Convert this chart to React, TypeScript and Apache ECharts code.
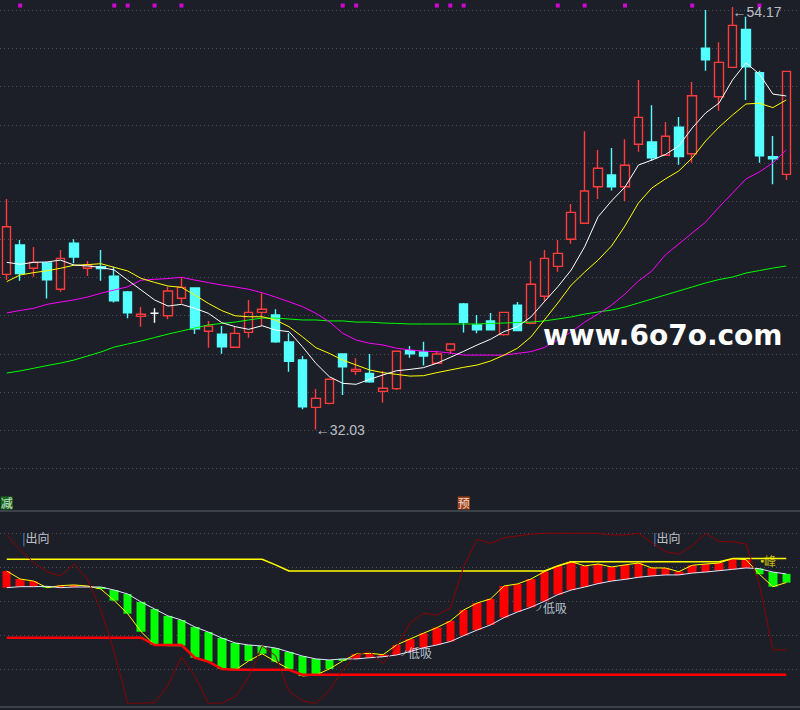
import React, { useEffect, useRef } from "react";
import * as echarts from "echarts";

// ---------- data ----------
const categories = [
  "1","2","3","4","5","6","7","8","9","10","11","12","13","14","15","16","17","18","19","20",
  "21","22","23","24","25","26","27","28","29","30","31","32","33","34","35","36","37","38","39","40",
  "41","42","43","44","45","46","47","48","49","50","51","52","53","54","55","56","57","58","59",
];

const opens = [40.16,41.70,40.48,40.76,39.38,41.80,40.48,40.56,40.07,39.24,37.96,38.12,37.99,38.91,39.45,37.18,37.03,36.34,37.12,38.17,
  38.03,36.62,35.67,33.19,33.40,35.99,35.08,34.97,34.03,34.17,36.16,36.09,35.50,36.20,38.61,37.51,37.72,37.00,38.55,37.60,
  39.01,40.58,42.00,42.84,44.75,45.37,44.75,46.98,47.10,46.40,47.87,46.48,52.02,49.47,51.01,53.00,50.73,46.33,45.40];
const closes = [42.66,40.20,40.79,39.88,41.00,41.07,40.65,40.46,38.78,38.15,38.07,38.12,39.29,39.48,37.31,37.45,36.37,37.07,38.17,38.33,
  36.63,35.60,33.22,33.66,34.66,35.32,35.18,34.53,34.19,36.13,36.00,35.88,35.99,36.51,37.65,37.26,37.26,38.17,37.21,39.64,
  41.00,41.26,43.41,44.53,45.72,44.75,45.88,48.39,46.27,47.40,46.33,49.52,51.40,51.27,53.21,51.04,46.38,46.22,50.80];
const highs = [44.11,41.96,41.59,40.81,41.44,42.00,40.86,41.44,40.56,39.29,38.45,38.38,39.51,40.01,39.48,37.72,37.45,37.42,38.82,39.17,
  38.33,37.07,35.88,34.15,34.70,36.00,35.76,35.99,35.11,36.15,36.41,36.63,36.16,36.51,38.66,38.03,38.14,38.17,38.71,40.86,
  41.44,41.96,43.85,47.66,46.68,46.78,47.24,50.35,49.02,48.15,48.41,50.24,54.02,52.32,54.17,53.66,50.83,47.41,50.80];
const lows = [39.86,39.83,40.04,38.89,39.25,40.74,40.07,39.83,38.68,37.86,37.42,37.63,37.81,38.64,37.03,36.32,36.00,36.34,36.84,37.47,
  36.58,35.06,33.09,32.03,33.35,33.84,34.89,34.48,33.43,34.10,35.79,35.39,35.50,35.99,37.12,37.07,37.26,36.95,37.21,37.55,
  38.73,40.30,41.77,42.84,44.11,44.55,44.01,46.59,46.12,46.40,45.91,46.01,50.83,48.74,51.01,49.30,46.01,44.88,45.11];
const dojiIndex = 11;

const ma5 = [40.79,40.69,40.79,40.81,40.91,40.65,40.60,40.53,40.39,39.86,39.34,38.82,38.50,38.59,38.38,38.12,37.63,37.42,37.28,37.47,
  37.24,37.16,36.37,35.50,34.80,34.45,34.40,34.66,34.89,35.11,35.18,35.27,35.50,35.81,36.13,36.46,36.76,37.16,37.42,37.93,
  38.73,39.51,40.39,41.61,43.18,44.01,44.74,45.89,46.15,46.44,46.89,47.83,48.62,49.14,50.35,51.24,50.66,49.61,49.51];
const ma10 = [39.78,40.13,40.25,40.35,40.48,40.64,40.67,40.72,40.53,40.34,39.95,39.74,39.55,39.48,39.08,38.64,38.26,37.99,37.94,37.94,
  37.77,37.42,36.89,36.32,36.02,35.67,35.41,35.15,35.01,34.92,34.83,34.85,35.01,35.15,35.29,35.41,35.62,35.93,36.29,36.88,
  37.77,38.66,39.60,40.28,40.91,41.65,42.70,43.90,44.69,45.16,45.58,46.26,47.15,47.88,48.51,49.09,49.13,48.90,49.30];
const ma20 = [38.14,38.27,38.38,38.59,38.71,38.82,38.97,39.17,39.34,39.51,39.86,39.90,39.94,40.01,39.86,39.73,39.60,39.50,39.38,39.20,
  38.97,38.73,38.47,38.12,37.68,37.07,36.72,36.55,36.46,36.29,36.20,36.14,36.11,36.04,35.93,35.93,35.93,35.93,36.02,36.11,
  36.33,36.72,37.14,37.66,38.08,38.55,39.13,39.81,40.34,41.18,41.75,42.33,42.90,43.69,44.42,45.16,45.53,46.00,46.68];
const ma60 = [34.99,35.10,35.24,35.38,35.51,35.67,35.88,36.09,36.35,36.51,36.67,36.85,37.03,37.19,37.35,37.51,37.59,37.66,37.77,37.87,
  37.87,37.82,37.77,37.77,37.72,37.72,37.66,37.66,37.61,37.59,37.56,37.56,37.56,37.56,37.56,37.56,37.59,37.61,37.64,37.66,
  37.72,37.82,37.93,38.08,38.19,38.29,38.45,38.66,38.87,39.08,39.29,39.50,39.71,39.89,40.02,40.23,40.36,40.49,40.60];

const signalIdx = [1, 8, 9, 11, 13, 25, 26, 32, 33, 34, 41, 43, 46, 51, 56];
const signalLevel = 54.25;

// lower indicator
const yel = [77.8,73.1,71.9,68.0,69.2,69.6,69.0,67.2,60.4,52.7,42.1,34.3,33.9,33.9,26.8,24.5,20.2,19.6,24.9,29.2,
  24.5,20.2,16.1,16.6,20.2,24.9,29.0,29.4,28.6,34.3,37.8,41.2,44.5,48.4,54.9,59.0,61.4,69.0,70.2,73.1,
  77.4,80.8,83.3,80.8,81.9,80.2,81.4,82.5,79.6,79.6,77.4,81.2,81.9,82.5,85.1,84.5,75.9,68.6,71.0];
const wht = [68.0,68.6,68.6,68.8,68.0,68.4,68.4,68.4,66.6,64.3,59.6,55.5,51.4,49.0,44.9,41.9,38.4,35.5,34.3,33.7,
  32.5,30.2,27.8,26.1,25.5,26.1,26.1,26.8,27.4,28.4,30.4,32.7,34.3,36.3,39.8,43.1,46.1,50.4,53.7,56.5,
  60.0,63.9,66.6,68.4,70.4,71.9,72.9,74.1,74.9,75.5,75.5,76.6,77.2,78.0,78.8,79.6,79.2,77.2,76.1];
const hh = [84.7,84.7,84.7,84.7,84.7,84.7,84.7,84.7,84.7,84.7,84.7,84.7,84.7,84.7,84.7,84.7,84.7,84.7,84.7,84.7,
  81.4,77.8,77.8,77.8,77.8,77.8,77.8,77.8,77.8,77.8,77.8,77.8,77.8,77.8,77.8,77.8,77.8,77.8,77.8,77.8,
  77.8,80.8,83.3,83.3,83.3,83.3,83.3,83.3,83.3,83.3,83.3,83.3,83.3,83.3,85.1,85.1,85.1,85.1,85.1];
const ll = [38.6,38.6,38.6,38.6,38.6,38.6,38.6,38.6,38.6,38.6,38.6,34.3,34.3,34.3,26.8,24.5,20.2,19.7,19.7,19.7,
  19.7,19.7,16.8,16.8,16.8,16.8,16.8,16.8,16.8,16.8,16.8,16.8,16.8,16.8,16.8,16.8,16.8,16.8,16.8,16.8,
  16.8,16.8,16.8,16.8,16.8,16.8,16.8,16.8,16.8,16.8,16.8,16.8,16.8,16.8,16.8,16.8,16.8,16.8,16.8];
const osc = [99.0,90.2,82.8,77.3,74.9,81.9,73.0,55.0,30.2,0,0,0.4,10.5,27.4,16.0,0,0,3.9,15.6,33.7,
  28.0,7.0,1.5,0,7.5,19.6,28.5,30.4,23.5,33.3,47.0,53.0,51.9,55.9,80.4,96.5,94.1,97.4,98.4,99.5,
  100,100,100,100,100,99.0,99.0,100,94.5,89.2,87.8,92.5,100,95.1,95.1,93.7,70.0,31.4,31.4];

const BG = "#1c1f27";
const RED = "#ff3b3b";
const CYAN = "#54ffff";
const CJK = "'Noto Sans CJK SC', sans-serif";

export default function App() {
  const ref = useRef<HTMLDivElement>(null);

  useEffect(() => {
    if (!ref.current) return;
    const chart = echarts.init(ref.current, null, { renderer: "svg" });

    const candleData = opens.map((o, i) => {
      const v = [o, closes[i], lows[i], highs[i]];
      if (i === dojiIndex) {
        return {
          value: v,
          itemStyle: { color: "#ffffff", color0: "#ffffff", borderColor: "#ffffff", borderColor0: "#ffffff" },
        };
      }
      return v;
    });
    const barData = yel.map((y, i) => [wht[i], y, Math.min(wht[i], y), Math.max(wht[i], y)]);

    const gridLine = { show: true, showMinLine: false, showMaxLine: false, lineStyle: { color: "#4a4f5b", type: [1, 3], width: 1 } };
    const line = (name: string, data: number[], color: string, width: number, xi: number, extra: any = {}) => ({
      name, type: "line", data, xAxisIndex: xi, yAxisIndex: xi, showSymbol: false, symbol: "none",
      lineStyle: { color, width }, silent: true, ...extra,
    });
    const labelPoint = (xi: number, x: number, y: number, label: any) => ({
      type: "scatter", xAxisIndex: xi, yAxisIndex: xi, symbolSize: 0, silent: true,
      data: [[x, y]], label: { show: true, ...label },
    });

    chart.setOption({
      animation: false,
      backgroundColor: BG,
      grid: [
        { left: 0, right: 7, top: 0, height: 506.4 },
        { left: 0, right: 7, top: 511, height: 192.3 },
        { left: 0, right: 0, top: 0, height: 506.4 },
        { left: 0, right: 0, top: 511, height: 192.3 },
      ],
      xAxis: [
        { type: "category", gridIndex: 0, data: categories, boundaryGap: true, show: false },
        { type: "category", gridIndex: 1, data: categories, boundaryGap: true, show: false },
        { type: "value", gridIndex: 2, show: false },
        { type: "value", gridIndex: 3, show: false },
      ],
      yAxis: [
        { type: "value", gridIndex: 0, min: 28, max: 54.54, show: false },
        { type: "value", gridIndex: 1, min: 0, max: 113.1, show: false },
        { type: "value", gridIndex: 2, min: 28, max: 54.54, interval: 2, axisLabel: { show: false }, axisLine: { show: false }, axisTick: { show: false }, splitLine: gridLine },
        { type: "value", gridIndex: 3, min: 0, max: 113.1, interval: 20, axisLabel: { show: false }, axisLine: { show: false }, axisTick: { show: false }, splitLine: gridLine },
      ],
      graphic: [
        { type: "line", shape: { x1: 0, y1: 511, x2: 800, y2: 511 }, style: { stroke: "#474d59", lineWidth: 1.5 }, silent: true },
        { type: "line", shape: { x1: 0, y1: 707, x2: 800, y2: 707 }, style: { stroke: "#474d59", lineWidth: 1.5 }, silent: true },
        {
          type: "text", x: 543, y: 335, silent: true, z: 100,
          style: { text: "www.6o7o.com", fill: "#ffffff", font: "bold 28px 'DejaVu Sans', sans-serif", textVerticalAlign: "middle" },
        },
      ],
      series: [
        {
          type: "candlestick", xAxisIndex: 0, yAxisIndex: 0, data: candleData, barWidth: 9, silent: true,
          itemStyle: { color: "transparent", color0: CYAN, borderColor: RED, borderColor0: CYAN, borderWidth: 1.4 },
        },
        line("ma60", ma60, "#00ff00", 1, 0),
        line("ma20", ma20, "#ff00ff", 1, 0),
        line("ma10", ma10, "#ffff00", 1, 0),
        line("ma5", ma5, "#ffffff", 1, 0),
        {
          type: "scatter", xAxisIndex: 0, yAxisIndex: 0, symbol: "rect", symbolSize: 4, silent: true,
          itemStyle: { color: "#ff00ff" },
          data: signalIdx.map((i) => [i, signalLevel]),
        },
        labelPoint(0, 54, 54.17, {
          position: "right", distance: 0, offset: [0, 5], formatter: "←54.17", color: "#e4e8f0",
          fontSize: 14, fontFamily: "'Liberation Sans Narrow', 'Liberation Sans', sans-serif",
        }),
        labelPoint(0, 23, 32.03, {
          position: "right", distance: 0, formatter: "←32.03", color: "#e4e8f0",
          fontSize: 14, fontFamily: "'Liberation Sans Narrow', 'Liberation Sans', sans-serif",
        }),
        labelPoint(0, 0, 28.18, {
          position: "inside", formatter: "减", color: "#ffffff", backgroundColor: "#14801a",
          fontSize: 12, lineHeight: 13, padding: [0, 0, 0, 0], fontFamily: CJK,
        }),
        labelPoint(0, 34, 28.18, {
          position: "inside", formatter: "预", color: "#ffffff", backgroundColor: "#c04a12",
          fontSize: 12, lineHeight: 13, padding: [0, 0, 0, 0], fontFamily: CJK,
        }),

        {
          type: "candlestick", xAxisIndex: 1, yAxisIndex: 1, data: barData, barWidth: 9, silent: true,
          itemStyle: { color: "#ff0000", color0: "#00ff00", borderColor: "#ff0000", borderColor0: "#00ff00", borderWidth: 0 },
        },
        line("yel", yel, "#ffff00", 1, 1),
        line("wht", wht, "#dfe4ff", 1, 1),
        line("hh", hh, "#ffff00", 1.5, 1),
        line("ll", ll, "#ff0000", 2.5, 1),
        line("osc", osc, "#8e0000", 1, 1),
        labelPoint(1, 1, 97.5, {
          position: "right", distance: 2, formatter: "{a||}{b|出向}",
          rich: { a: { color: "#7fb2ff", fontSize: 12, fontFamily: CJK }, b: { color: "#e8ecf4", fontSize: 12, fontFamily: CJK } },
        }),
        labelPoint(1, 48, 97.7, {
          position: "right", distance: 1.5, formatter: "{a||}{b|出向}",
          rich: { a: { color: "#7fb2ff", fontSize: 12, fontFamily: CJK }, b: { color: "#e8ecf4", fontSize: 12, fontFamily: CJK } },
        }),
        labelPoint(1, 39, 56.2, {
          position: "right", distance: 4, formatter: "{a|ノ}{b|低吸}",
          rich: { a: { color: "#cfe0ff", fontSize: 8, fontFamily: CJK }, b: { color: "#dce8f8", fontSize: 12, fontFamily: CJK } },
        }),
        labelPoint(1, 29, 29.6, {
          position: "right", distance: 3.5, formatter: "{a|ノ}{b|低吸}",
          rich: { a: { color: "#cfe0ff", fontSize: 8, fontFamily: CJK }, b: { color: "#dce8f8", fontSize: 12, fontFamily: CJK } },
        }),
        labelPoint(1, 56, 83.9, {
          position: "right", distance: 0.5, formatter: "{a|●}{b|峰}",
          rich: { a: { color: "#ffff00", fontSize: 7 }, b: { color: "#f0e000", fontSize: 12, fontFamily: CJK } },
        }),
      ],
    });

    return () => chart.dispose();
  }, []);

  return <div ref={ref} style={{ position: "fixed", left: 0, top: 0, width: 800, height: 710 }} />;
}
